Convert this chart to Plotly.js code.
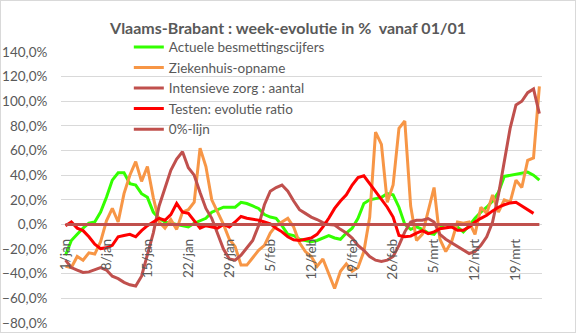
<!DOCTYPE html>
<html>
<head>
<meta charset="utf-8">
<script src="https://cdn.plot.ly/plotly-3.0.1.min.js"></script>
<style>
  body { margin: 0; padding: 0; background: #fff; }
  #wrap { position: relative; width: 576px; height: 333px; }
  #chart { width: 576px; height: 333px; }
  #frame { position: absolute; left: 0; top: 0; width: 574px; height: 331px; border: 1px solid #D9D9D9; pointer-events: none; }
</style>
</head>
<body>
<div id="wrap"><div id="chart"></div><div id="frame"></div></div>
<script>
// Day index 0 = 1/jan
const tickDays = [0, 7, 14, 21, 28, 35, 42, 49, 56, 63, 70, 77];
const tickLabels = ["1/jan", "8/jan", "15/jan", "22/jan", "29/jan", "5/feb", "12/feb", "19/feb", "26/feb", "5/mrt", "12/mrt", "19/mrt"];

const days = [];
for (let i = 0; i <= 81; i++) days.push(i);

const besmettingen = [-25, -13, -8, -3, 1, 2, 10, 22, 36, 42,
  42, 33, 32, 25, 22, 10, 5, 2, 1, 0,
  -1, -2, 1, 3, 5, 10, 12, 14, 14, 14,
  18, 17, 15, 13, 8, 6, 5, -1, -8, -9,
  -12, -13, -14, -13, -11, -9, -11, -12, -7, -3,
  5, 17, 20, 21, 22, 25, 24, 14, 0, -4,
  -2, -4, -7, -8, -2, 0, 0, -2, -6, -1,
  5, 10, 14, 19, 26, 39, 40, 41, 42, 42.5,
  40, 36];

const ziekenhuis = [-34, -35, -26, -29, -23, -24, -14, 3, 13, 2,
  25, 40, 51, 35, 47, 22, 2, -3, 4, -4,
  10, 12, 18, 62, 47, 20, 10, 0, -12, -18,
  -33, -33, -27, -21, -17, -7, -1, 2, 5, -2,
  -15, -22, -26, -34, -28, -40, -52, -38, -32, -38,
  -35, -22, 6, 75, 65, 18, 32, 78, 84, 15,
  -13, -8, 10, 30, -12, -22, -14, 2, 1, 2,
  -8, 14, 9, 24, 10, 20, 18, 36, 30, 52,
  54, 112];

const intensieveZorg = [-29, -35, -37, -39, -38.5, -37, -35, -37, -42, -44,
  -47, -49, -50, -42, -24, -7, 15, 30, 44, 53,
  59, 46, 40, 26, 13, 5, -7, -20, -28, -29,
  -25, -19, -13, -1, 16, 27, 30, 32, 27, 19,
  12, 9, 6, 4, 1.5, 0, -0.5, -4, -7, -11,
  -17, -21, -26, -29, -30, -29, -26, -17, -6, 2,
  3.4, 3.5, 4.8, 2, -8, -12, -15, -18, -21, -23.6,
  -22, -17, -10, 2, 24, 52, 78, 97, 100, 107,
  110, 90];

const testen = [-1, 2, -3, -5, -10, -16, -19.6, -19, -17, -10,
  -9, -8, -10, -5, -1, 2, 5, 3.4, 8, 17,
  10, 9, 3, -3, -1, -2, -3, 0, -2, 2,
  6.5, 5, 4.5, 3.5, 2, 0.5, -3, -6, -10, -12.5,
  -13, -12, -11, -8, -2, 5, 13, 19, 24, 32,
  38, 39.5, 33, 26, 20, 14, 6, -9, -10, -9.5,
  -7, -5, -7.5, -6, -3.5, -2.5, -2, -4.7, -4.7, -2,
  2, 5, 7.5, 11, 14, 16, 17.5, 18, 15, 12.5,
  9, null];

const nulLijn = days.map(() => 0);

const seriesNames = ["Actuele besmettingscijfers", "Ziekenhuis-opname", "Intensieve zorg : aantal", "Testen: evolutie ratio", "0%-lijn"];
const seriesColors = ["#33FF00", "#F79646", "#C0504D", "#FF0000", "#C0504D"];
const seriesValues = [besmettingen, ziekenhuis, intensieveZorg, testen, nulLijn];

const traces = seriesValues.map((vals, i) => ({
  type: "scatter",
  mode: "lines",
  x: days,
  y: vals,
  name: seriesNames[i],
  line: { color: seriesColors[i], width: 3 },
  hoverinfo: "skip"
}));

const textColor = "#595959";
const layout = {
  width: 576,
  height: 333,
  margin: { l: 61, r: 34, t: 52, b: 10 },
  paper_bgcolor: "#FFFFFF",
  plot_bgcolor: "#FFFFFF",
  separators: ", ",
  font: { family: "Lato, 'Open Sans', sans-serif", size: 13.5, color: textColor },
  title: {
    text: "Vlaams-Brabant : week-evolutie in %  vanaf 01/01",
    font: { family: "Lato, sans-serif", size: 16, color: textColor, weight: "bold" },
    x: 0.5, xanchor: "center",
    y: 1 - 28 / 333, yanchor: "middle", yref: "container"
  },
  showlegend: true,
  legend: {
    x: 0.141, xanchor: "left",
    y: 1.075, yanchor: "top",
    bgcolor: "rgba(0,0,0,0)",
    font: { size: 13.5, color: textColor },
    tracegroupgap: 0
  },
  xaxis: {
    range: [-0.77, 81.45],
    tickmode: "array",
    tickvals: tickDays,
    ticktext: tickLabels,
    tickangle: -90,
    ticks: "outside",
    ticklen: 8,
    tickcolor: "rgba(0,0,0,0)",
    showgrid: false,
    zeroline: false,
    showline: false,
    anchor: "free",
    position: 80 / 220,
    tickfont: { size: 13.5, color: textColor }
  },
  yaxis: {
    range: [-80, 140],
    tickmode: "linear",
    tick0: -80,
    dtick: 20,
    tickformat: ".1f",
    ticksuffix: "%",
    ticks: "outside",
    ticklen: 10,
    tickcolor: "rgba(0,0,0,0)",
    showgrid: true,
    gridcolor: "#D9D9D9",
    gridwidth: 1,
    zeroline: false,
    showline: false,
    tickfont: { size: 13.5, color: textColor }
  }
};

Plotly.newPlot("chart", traces, layout, { displayModeBar: false, staticPlot: true });
</script>
</body>
</html>
